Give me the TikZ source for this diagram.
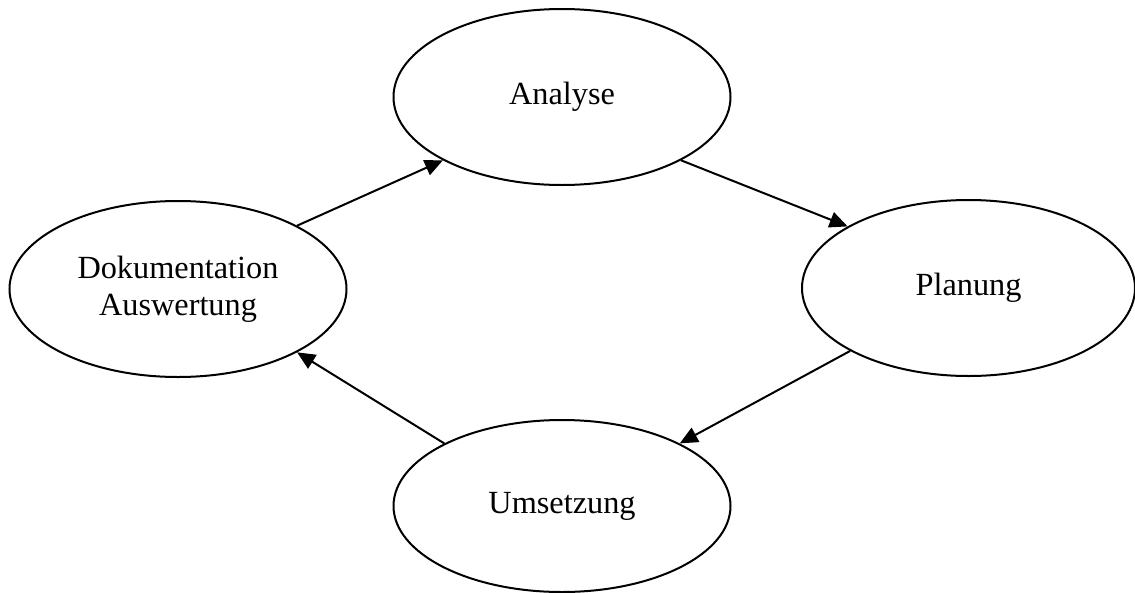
\documentclass[tikz,border=0pt]{standalone}
\usepackage{fontspec}
\setmainfont{Liberation Serif}
\usetikzlibrary{shapes.geometric,arrows.meta}
\begin{document}
\begin{tikzpicture}[x=1pt,y=-1pt,
  phase/.style={draw=black,line width=2pt,ellipse,inner sep=0pt,
    minimum width=337pt,minimum height=176pt,align=center,
    font=\fontsize{32.3}{37}\selectfont},
  flow/.style={line width=2pt,-{Triangle[length=18pt,width=16pt]}}]
\useasboundingbox (0,0) rectangle (1135,592);
\node[phase] (ana) at (562,97) {Analyse};
\node[phase,minimum width=333pt] (pla) at (968.5,288) {Planung};
\node[phase,minimum height=172pt] (ums) at (562,506) {Umsetzung};
\node[phase] (dok) at (178,289) {Dokumentation\\Auswertung};
\draw[flow] (dok.28) -- (ana.208);
\draw[flow] (ana.332.5) -- (pla.153);
\draw[flow] (pla.208.5) -- (ums.28);
\draw[flow] (ums.152) -- (dok.332);
\end{tikzpicture}
\end{document}
